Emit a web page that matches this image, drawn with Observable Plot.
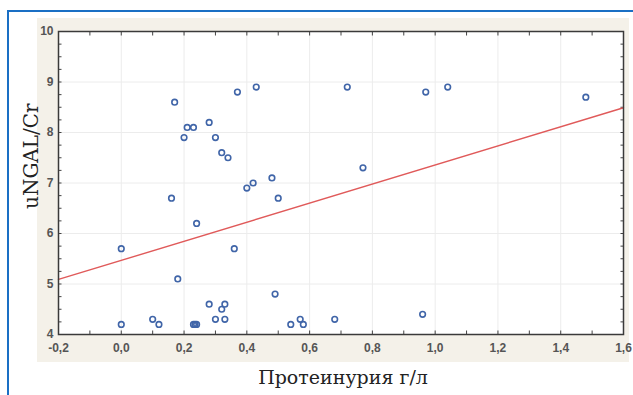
<!DOCTYPE html>
<html>
<head>
<meta charset="utf-8">
<script src="https://cdn.jsdelivr.net/npm/d3@7"></script>
<script src="https://cdn.jsdelivr.net/npm/@observablehq/plot@0.6"></script>
<style>
  html, body { margin: 0; padding: 0; background: #ffffff; }
  #wrap { position: relative; width: 633px; height: 395px; overflow: hidden; }
  #border { position: absolute; left: 7px; top: 10px; width: 700px; height: 500px;
            border-top: 2.5px solid #1a6fc4; border-left: 2.5px solid #1a6fc4; }
  #panel { position: absolute; left: 37px; top: 18px; width: 592px; height: 344px; background: #f4f1e9; }
  #chart { position: absolute; left: 0; top: 0; }
</style>
</head>
<body>
<div id="wrap">
  <div id="border"></div>
  <div id="panel"></div>
  <div id="chart"></div>
</div>
<script>
// Data: proteinuria (g/l) vs uNGAL/Cr
const proteinuria = [0.00, 0.00, 0.10, 0.12, 0.16, 0.17, 0.18, 0.20, 0.21, 0.23, 0.24, 0.23, 0.235, 0.24,
  0.28, 0.28, 0.30, 0.30, 0.32, 0.32, 0.33, 0.33, 0.34, 0.36, 0.37, 0.40, 0.42, 0.43, 0.48, 0.49,
  0.50, 0.54, 0.57, 0.58, 0.68, 0.72, 0.77, 0.96, 0.97, 1.04, 1.48];
const ngalCr = [4.2, 5.7, 4.3, 4.2, 6.7, 8.6, 5.1, 7.9, 8.1, 8.1, 6.2, 4.2, 4.2, 4.2,
  8.2, 4.6, 7.9, 4.3, 7.6, 4.5, 4.6, 4.3, 7.5, 5.7, 8.8, 6.9, 7.0, 8.9, 7.1, 4.8,
  6.7, 4.2, 4.3, 4.2, 4.3, 8.9, 7.3, 4.4, 8.8, 8.9, 8.7];

// Regression line endpoints
const fitX = [-0.2, 1.6];
const fitY = [5.09, 8.49];

// Tick labels
const xTicks = [-0.2, 0.0, 0.2, 0.4, 0.6, 0.8, 1.0, 1.2, 1.4, 1.6];
const yTicks = [4, 5, 6, 7, 8, 9, 10];
const xMinor = d3.range(-2, 17).map(i => i / 10);
const yMinor = d3.range(16, 41).map(i => i / 4);

const xTitle = "Протеинурия г/л";
const yTitle = "uNGAL/Cr";

const points = proteinuria.map((x, i) => ({x, y: ngalCr[i]}));
const fit = fitX.map((x, i) => ({x, y: fitY[i]}));
const fmt = d => d.toFixed(1).replace(".", ",");

const tickFont = {fontSize: 12, fontFamily: "Liberation Sans, Arial, sans-serif", fontWeight: "bold", color: "#555"};

const chart = Plot.plot({
  width: 633,
  height: 395,
  marginLeft: 58,
  marginRight: 10,
  marginTop: 31,
  marginBottom: 61,
  style: {background: "transparent", overflow: "visible"},
  x: {domain: [-0.2, 1.6]},
  y: {domain: [4, 10]},
  marks: [
    Plot.frame({fill: "white", stroke: null}),
    Plot.gridX(xTicks, {stroke: "#ececec", strokeOpacity: 1}),
    Plot.gridY(yTicks, {stroke: "#ececec", strokeOpacity: 1}),
    // tick labels
    Plot.axisX({ticks: xTicks, tickSize: 0, tickPadding: 9, tickFormat: fmt, label: null, anchor: "bottom", ...tickFont}),
    Plot.axisY({ticks: yTicks, tickSize: 0, tickPadding: 5, tickFormat: d => String(d), label: null, anchor: "left", ...tickFont}),
    // inside ticks
    Plot.axisX({ticks: xMinor, tickSize: 3.5, anchor: "bottom", dy: -3.5, tickFormat: () => "", label: null, stroke: "#444"}),
    Plot.axisX({ticks: xMinor, tickSize: 3.5, anchor: "top", dy: 3.5, tickFormat: () => "", label: null, stroke: "#444"}),
    Plot.axisY({ticks: yMinor, tickSize: 3.5, anchor: "left", dx: 3.5, tickFormat: () => "", label: null, stroke: "#444"}),
    Plot.axisY({ticks: yMinor, tickSize: 3.5, anchor: "right", dx: -3.5, tickFormat: () => "", label: null, stroke: "#444"}),
    Plot.line(fit, {x: "x", y: "y", stroke: "#e05a5a", strokeWidth: 1.4}),
    Plot.dot(points, {x: "x", y: "y", r: 2.8, stroke: "#4065a8", strokeWidth: 1.6, fill: "none"}),
    Plot.frame({stroke: "#3a3a3a", strokeWidth: 1.5}),
    Plot.text([yTitle], {frameAnchor: "left", dx: -27, dy: 26, rotate: -90, fontSize: 20,
      fontFamily: "DejaVu Serif, serif", fill: "#222", style: {letterSpacing: "2.5px"}}),
    Plot.text([xTitle], {frameAnchor: "bottom", dx: 2, dy: 49, fontSize: 19,
      fontFamily: "DejaVu Serif, serif", fill: "#222", style: {letterSpacing: "0.4px"}})
  ]
});
document.getElementById("chart").appendChild(chart);
</script>
</body>
</html>
